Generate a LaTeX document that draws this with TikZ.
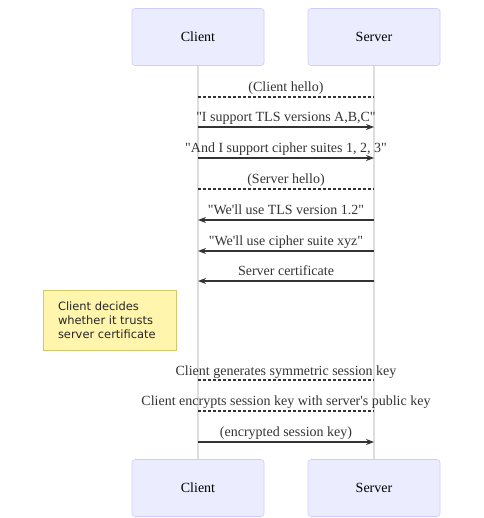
\documentclass[tikz,border=0pt]{standalone}
\usepackage{fontspec}
\setmainfont{Liberation Serif}
\newfontfamily\notefont{DejaVu Sans}
\usetikzlibrary{arrows.meta}
\definecolor{actfill}{HTML}{ECECFF}
\definecolor{actline}{HTML}{CCCCFF}
\definecolor{lifeline}{HTML}{DDDDDD}
\definecolor{notefill}{HTML}{FFF5AD}
\definecolor{noteline}{HTML}{D4C96A}
\definecolor{msg}{HTML}{333333}
\newcommand{\qq}{\textquotedbl}
\newcommand{\ap}{\textquotesingle}
\begin{document}
\begin{tikzpicture}[x=0.75pt,y=-0.75pt,
  actor/.style={draw=actline,fill=actfill,rounded corners=2.25pt,minimum width=99pt,minimum height=42.75pt,inner sep=0pt,font=\fontsize{10.5}{13}\selectfont},
  life/.style={draw=lifeline,line width=1.1pt},
  msgline/.style={draw=msg,line width=0.9pt},
  dashmsg/.style={draw=msg,line width=0.9pt,dash pattern=on 2.25pt off 1.5pt},
  arr/.style={msgline,-{Stealth[length=6pt,width=4.5pt]}},
  lbl/.style={font=\fontsize{10.5}{13}\selectfont,text=msg,inner sep=0pt,anchor=base},
  notebox/.style={draw=noteline,fill=notefill,minimum width=99.75pt,minimum height=45pt,inner sep=0pt},
  notetext/.style={inner sep=0pt,align=left,anchor=west,font=\notefont\fontsize{8.6}{10.6}\selectfont,text=black!85}
]
\useasboundingbox (0,0) rectangle (484,518);
\node[actor] (ct) at (198,37) {Client};
\node[actor] (st) at (374,37) {Server};
\node[actor] (cb) at (198,488) {Client};
\node[actor] (sb) at (374,488) {Server};
\draw[life] (ct.south) -- (cb.north);
\draw[life] (st.south) -- (sb.north);
% message rows
\coordinate (c1) at (198,97);  \coordinate (s1) at (374,97);
\coordinate (c2) at (198,127); \coordinate (s2) at (374,127);
\coordinate (c3) at (198,158); \coordinate (s3) at (374,158);
\coordinate (c4) at (198,189); \coordinate (s4) at (374,189);
\coordinate (c5) at (198,220); \coordinate (s5) at (374,220);
\coordinate (c6) at (198,251); \coordinate (s6) at (374,251);
\coordinate (c7) at (198,281); \coordinate (s7) at (374,281);
\coordinate (c8) at (198,380); \coordinate (s8) at (374,380);
\coordinate (c9) at (198,411); \coordinate (s9) at (374,411);
\coordinate (c10) at (198,442); \coordinate (s10) at (374,442);
\draw[dashmsg] (c1) -- (s1);
\draw[arr] (c2) -- (s2);
\draw[arr] (c3) -- (s3);
\draw[dashmsg] (c4) -- (s4);
\draw[arr] (s5) -- (c5);
\draw[arr] (s6) -- (c6);
\draw[arr] (s7) -- (c7);
\draw[dashmsg] (c8) -- (s8);
\draw[dashmsg] (c9) -- (s9);
\draw[arr] (c10) -- (s10);
\node[lbl] (l1) at (286,91) {(Client hello)};
\node[lbl] (l2) at (286,121) {\qq I support TLS versions A,B,C\qq};
\node[lbl] (l3) at (286,152) {\qq And I support cipher suites 1, 2, 3\qq};
\node[lbl] (l4) at (286,183) {(Server hello)};
\node[lbl] (l5) at (286,214) {\qq We\ap ll use TLS version 1.2\qq};
\node[lbl] (l6) at (286,245) {\qq We\ap ll use cipher suite xyz\qq};
\node[lbl] (l7) at (286,275) {Server certificate};
\node[lbl] (l8) at (286,375) {Client generates symmetric session key};
\node[lbl] (l9) at (286,405) {Client encrypts session key with server\ap s public key};
\node[lbl] (l10) at (286,436) {(encrypted session key)};
\node[notebox] (n) at (109.5,320) {};
\node[notetext] (nt) at ([xshift=11.25pt,yshift=-0.4pt]n.west) {Client decides\\whether it trusts\\server certificate};
\end{tikzpicture}
\end{document}
